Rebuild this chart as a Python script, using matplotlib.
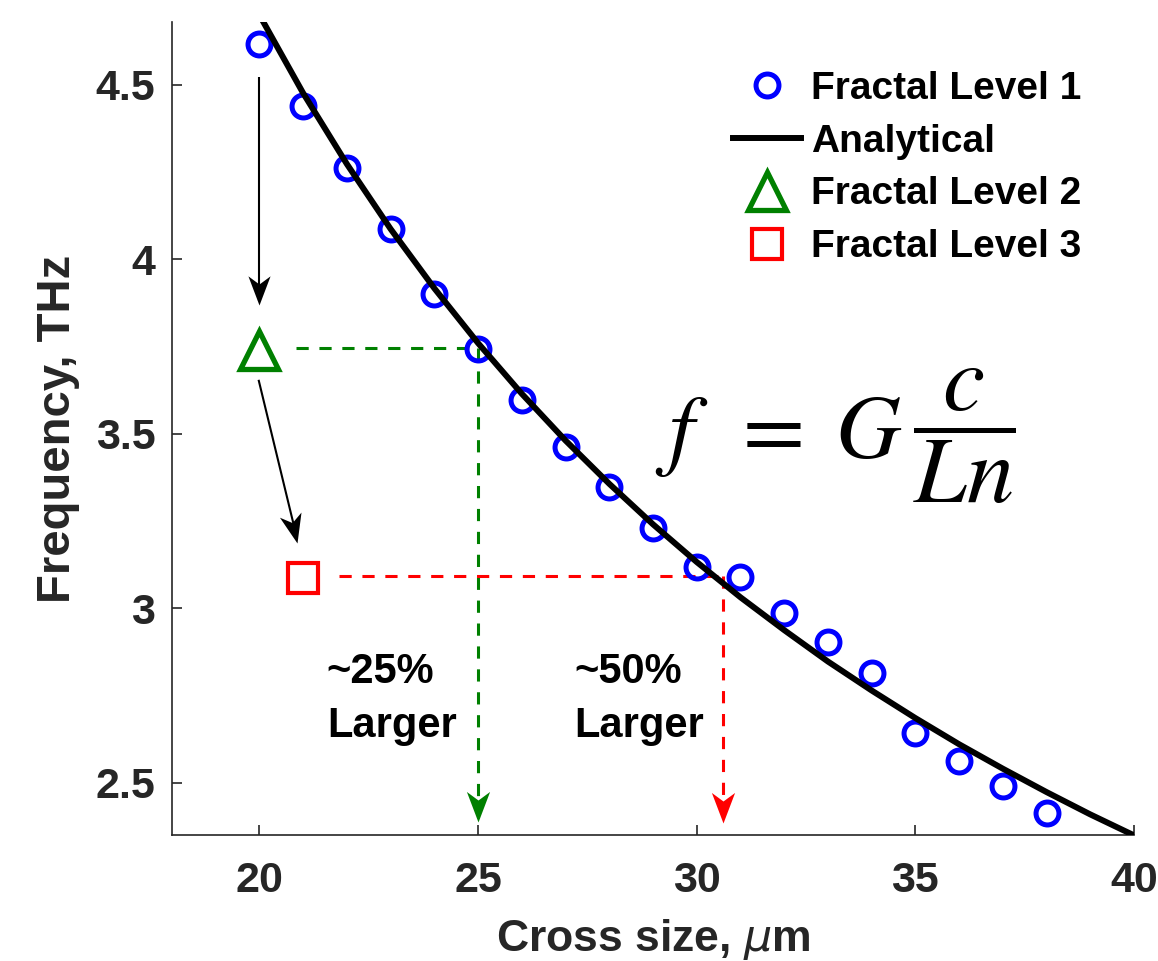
import numpy as np
import matplotlib
matplotlib.use('Agg')
import matplotlib.pyplot as plt
from matplotlib.markers import MarkerStyle
from matplotlib.path import Path
from matplotlib.transforms import Affine2D

plt.rcParams['font.family'] = ['Liberation Sans', 'DejaVu Sans']

# Fractal level 1 simulation results (cross size in um, frequency in THz)
sizes = [20, 21, 22, 23, 24, 25, 26, 27, 28, 29, 30, 31, 32, 33, 34, 35, 36, 37, 38]
level1_freq = [4.617, 4.440, 4.262, 4.087, 3.901, 3.744, 3.597, 3.463, 3.348,
               3.231, 3.119, 3.089, 2.987, 2.904, 2.815, 2.643, 2.563, 2.491, 2.414]

# analytical curve
analytical_x = [20, 21, 22, 23, 24, 25, 26, 27, 28, 29, 30,
                31, 32, 33, 34, 35, 36, 37, 38, 39, 40]
analytical_y = [4.700, 4.476, 4.273, 4.087, 3.917, 3.760, 3.615, 3.481, 3.357, 3.241, 3.133,
                3.032, 2.938, 2.848, 2.765, 2.686, 2.611, 2.541, 2.474, 2.410, 2.350]

# higher fractal levels
level2_size, level2_freq = [20], [3.741]
level3_size, level3_freq = [21], [3.087]

# equivalent-size guide points
level2_equiv = 25.0
level3_equiv = 30.6

xticks = [20, 25, 30, 35, 40]
yticks = [2.5, 3, 3.5, 4, 4.5]
ytick_labels = ['2.5', '3', '3.5', '4', '4.5']

blue = '#0000ff'
green = '#008000'
red = '#ff0000'
dark = '#262626'

fig = plt.figure(figsize=(11.58, 9.61), dpi=100)
ax = fig.add_axes([172 / 1158, 1 - 835 / 961, (1134 - 172) / 1158, (835 - 22) / 961])
ax.set_xlim(18, 40)
ax.set_ylim(2.351, 4.68)


def arrow_head(x0, y0, x1, y1, color, ms):
    # concave (chevron) head, tip at (x1, y1), pointing away from (x0, y0)
    p0 = ax.transData.transform((x0, y0))
    p1 = ax.transData.transform((x1, y1))
    ang = np.degrees(np.arctan2(p1[1] - p0[1], p1[0] - p0[0]))
    verts = [(0, 0), (-1, 0.38), (-0.72, 0), (-1, -0.38), (0, 0)]
    codes = [Path.MOVETO, Path.LINETO, Path.LINETO, Path.LINETO, Path.CLOSEPOLY]
    m = MarkerStyle(Path(verts, codes), transform=Affine2D().rotate_deg(ang))
    ax.plot([x1], [y1], marker=m, ms=ms, color=color, mew=0, ls='none',
            zorder=5, clip_on=False)


# dashed guide lines
ax.plot([20.83, level2_equiv], [3.746, 3.746], color=green, lw=2.2, dashes=(4, 3.5), zorder=1)
ax.plot([level2_equiv, level2_equiv], [3.746, 2.40], color=green, lw=2.2, dashes=(4, 3.5), zorder=1)
arrow_head(level2_equiv, 3.746, level2_equiv, 2.388, green, 44)

ax.plot([21.83, level3_equiv], [3.093, 3.093], color=red, lw=2.2, dashes=(4, 3.5), zorder=1)
ax.plot([level3_equiv, level3_equiv], [3.093, 2.40], color=red, lw=2.2, dashes=(4, 3.5), zorder=1)
arrow_head(level3_equiv, 3.093, level3_equiv, 2.385, red, 44)

# black arrows between levels
ax.plot([20, 20], [4.523, 3.88], color='k', lw=1.5, solid_capstyle='butt', zorder=4)
arrow_head(20, 4.523, 20, 3.870, 'k', 42)
ax.plot([19.98, 20.86], [3.655, 3.20], color='k', lw=1.5, solid_capstyle='butt', zorder=4)
arrow_head(19.98, 3.655, 20.87, 3.188, 'k', 42)

ax.plot(sizes, level1_freq, 'o', ms=16.5, mfc='none', mec=blue, mew=3.6,
        label='Fractal Level 1', zorder=2)
ax.plot(analytical_x, analytical_y, '-', color='k', lw=4.3, label='Analytical', zorder=3)
ax.plot(level2_size, level2_freq, '^', ms=28, mfc='none', mec=green, mew=3.8,
        label='Fractal Level 2', zorder=3)
ax.plot(level3_size, level3_freq, 's', ms=21, mfc='none', mec=red, mew=3.0,
        label='Fractal Level 3', zorder=3)

# annotations
ax.text(21.54, 2.787, '~25%', fontsize=30, fontweight='bold', ha='left', va='baseline')
ax.text(21.54, 2.632, 'Larger', fontsize=30, fontweight='bold', ha='left', va='baseline')
ax.text(27.2, 2.787, '~50%', fontsize=30, fontweight='bold', ha='left', va='baseline')
ax.text(27.2, 2.632, 'Larger', fontsize=30, fontweight='bold', ha='left', va='baseline')

# formula: f = G c / (L n)
ax.text(29.04, 3.431, r'$f\;\;=\;G$', fontsize=65, math_fontfamily='stix',
        ha='left', va='baseline')
ax.text(36.12, 3.494, r'$\dfrac{c}{Ln}$', fontsize=68, math_fontfamily='stix',
        ha='center', va='center')

leg = ax.legend(loc='upper left', bbox_to_anchor=(733 / 1158, 1 - 71 / 961),
                bbox_transform=fig.transFigure, frameon=False,
                prop={'size': 28, 'weight': 'bold'}, handlelength=1.75,
                handletextpad=0.25, labelspacing=0.43, borderpad=0, borderaxespad=0)

for s in ['top', 'right']:
    ax.spines[s].set_visible(False)
for s in ['left', 'bottom']:
    ax.spines[s].set_color(dark)
    ax.spines[s].set_linewidth(1.2)

ax.set_xticks(xticks)
ax.set_yticks(yticks)
ax.set_yticklabels(ytick_labels)
ax.tick_params(direction='in', length=7, width=1.2, color=dark, labelcolor=dark,
               labelsize=31)
ax.tick_params(axis='y', pad=12)
ax.tick_params(axis='x', pad=19)
for lab in ax.get_xticklabels() + ax.get_yticklabels():
    lab.set_fontweight('bold')

ax.set_xlabel(r'Cross size, $\mu$m', fontsize=32, fontweight='bold', color=dark, labelpad=11)
ax.set_ylabel('Frequency, THz', fontsize=34, fontweight='bold', color=dark, labelpad=11)

fig.savefig('out.png', dpi=100)
